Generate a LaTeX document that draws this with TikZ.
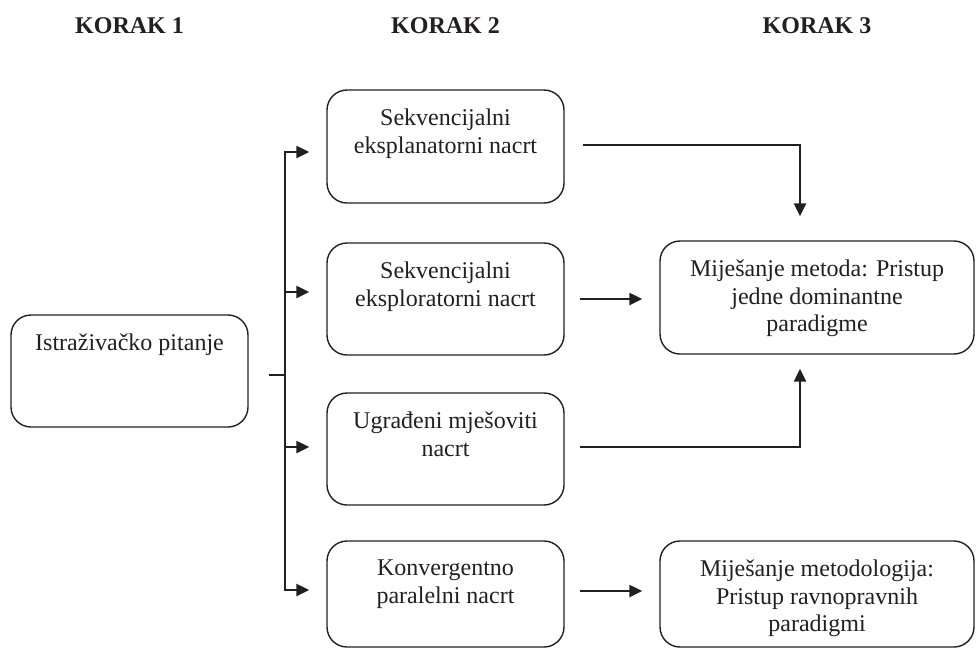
\documentclass[tikz,border=0pt]{standalone}
\usepackage{fontspec}
\setmainfont{Liberation Serif}
\usetikzlibrary{arrows.meta}
\definecolor{ink}{HTML}{231F20}
\begin{document}
\begin{tikzpicture}[x=1pt,y=-1pt,
  box/.style={draw=ink, line width=1.4pt, rounded corners=20pt, inner sep=0pt},
  txt/.style={font=\fontsize{24}{27.5}\selectfont, align=center, inner sep=0pt, text=ink, anchor=north, yshift=-19.5pt},
  hdr/.style={font=\fontsize{24}{28}\selectfont\bfseries, text=ink, anchor=base},
  conn/.style={draw=ink, line width=2.3pt},
  arr/.style={conn, -{Triangle[length=13pt,width=12pt]}}]
\useasboundingbox (0,0) rectangle (976,649);

% headers
\node[hdr] (k1) at (129.5,33) {KORAK 1};
\node[hdr] (k2) at (445.5,33) {KORAK 2};
\node[hdr] (k3) at (817,33) {KORAK 3};

% boxes
\node[box, minimum width=237pt, minimum height=112pt] (L) at (129.5,371) {};
\node[box, minimum width=237pt, minimum height=113pt] (m1) at (445.5,146.5) {};
\node[box, minimum width=237pt, minimum height=112pt] (m2) at (445.5,299) {};
\node[box, minimum width=237pt, minimum height=112pt] (m3) at (445.5,449) {};
\node[box, minimum width=237pt, minimum height=106pt] (m4) at (445.5,594) {};
\node[box, minimum width=314pt, minimum height=113pt] (r1) at (817,297.5) {};
\node[box, minimum width=314pt, minimum height=106pt] (r2) at (817,594) {};

% texts
\node[txt] (tL) at (L.north) {Istraživačko pitanje};
\node[txt] (t1) at (m1.north) {Sekvencijalni\\eksplanatorni nacrt};
\node[txt] (t2) at (m2.north) {Sekvencijalni\\eksploratorni nacrt};
\node[txt] (t3) at (m3.north) {Ugrađeni mješoviti\\nacrt};
\node[txt] (t4) at (m4.north) {Konvergentno\\paralelni nacrt};
\node[txt] (tr1) at (r1.north) {Miješanje metoda: Pristup\\jedne dominantne\\paradigme};
\node[txt] (tr2) at (r2.north) {Miješanje metodologija:\\Pristup ravnopravnih\\paradigmi};

% bracket
\coordinate (stub) at (269,375);
\coordinate (j) at (285,375);
\draw[conn] (stub) -- (j);
\draw[arr, shorten >=17pt] (j) |- ([yshift=-5.5pt]m1.west);
\draw[arr, shorten >=17pt] (j) |- ([yshift=7pt]m2.west);
\draw[arr, shorten >=17pt] (j) |- ([yshift=2pt]m3.west);
\draw[arr, shorten >=17pt] (j) |- ([yshift=4pt]m4.west);

% to step 3
\draw[arr, shorten <=15pt, shorten >=17pt] (m2.east) -- (m2.east -| r1.west);
\draw[arr, shorten <=15pt, shorten >=17pt] ([yshift=3pt]m4.east) -- ([yshift=3pt]m4.east -| r2.west);
\draw[arr] ([xshift=18pt,yshift=1.5pt]m1.east) -| ([xshift=-17pt,yshift=24pt]r1.north);
\draw[arr] ([xshift=15pt,yshift=2pt]m3.east) -| ([xshift=-17pt,yshift=-14pt]r1.south);
\end{tikzpicture}
\end{document}
